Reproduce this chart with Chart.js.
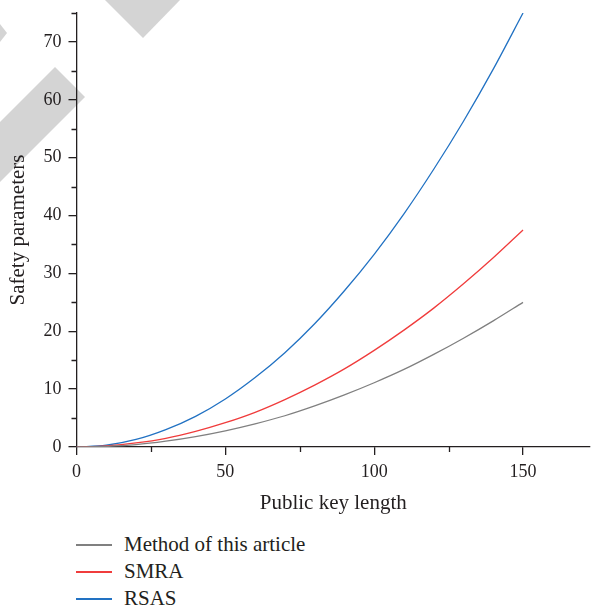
<!DOCTYPE html>
<html>
<head>
<meta charset="utf-8">
<script src="https://cdn.jsdelivr.net/npm/chart.js@4"></script>
<style>
    body { margin: 0; background: #fff; }
    #wrap { position: relative; width: 592px; height: 607px; overflow: hidden; }
    #marca { position: absolute; left: 0; top: 0; }
    #grafica { position: absolute; left: 0; top: 0; }
    #leyenda { position: absolute; left: 76px; top: 531px; font-family: "Liberation Serif", serif; font-size: 21px; color: #231f20; }
    .fila { height: 27px; display: flex; align-items: center; }
    .linea { width: 36px; height: 2px; margin-right: 12px; }
</style>
</head>
<body>
<div id="wrap">
    <svg id="marca" width="592" height="607">
        <g fill="#d4d4d4">
            <polygon points="105,0 180,0 143,38" />
            <polygon points="0,24 7,33 0,42" />
            <polygon points="0,122 55,67 85,97 0,182" />
        </g>
    </svg>
    <canvas id="grafica" width="592" height="520"></canvas>
    <div id="leyenda"></div>
</div>
<script>
const keyLength = [0, 10, 20, 30, 40, 50, 60, 70, 80, 90, 100, 110, 120, 130, 140, 150];
const metodo = [0, 0.1, 0.4, 1.0, 1.8, 2.8, 4.0, 5.4, 7.1, 9.0, 11.1, 13.4, 16.0, 18.8, 21.8, 25.0];
const smra = [0, 0.2, 0.7, 1.5, 2.7, 4.2, 6.0, 8.2, 10.7, 13.5, 16.7, 20.2, 24.0, 28.2, 32.7, 37.5];
const rsas = [0, 0.3, 1.3, 3.0, 5.3, 8.3, 12.0, 16.3, 21.3, 27.0, 33.3, 40.3, 48.0, 56.3, 65.3, 75.0];
const nombres = ['Method of this article', 'SMRA', 'RSAS'];
const colores = ['#808080', '#f03c3c', '#2272c3'];

const fuenteTicks = { family: '"Liberation Serif", serif', size: 18 };
const fuenteTitulo = { family: '"Liberation Serif", serif', size: 21 };
const tinta = '#231f20';

function puntos(serie) {
    return keyLength.map((x, i) => ({ x: x, y: serie[i] }));
}

// marcas menores del eje
const ticksMenores = {
    id: 'ticksMenores',
    afterDraw(chart) {
        const ctx = chart.ctx;
        const x = chart.scales.x, y = chart.scales.y;
        ctx.save();
        ctx.strokeStyle = tinta;
        ctx.lineWidth = 1.3;
        ctx.beginPath();
        y.ticks.forEach(t => {
            if (t.value % 10 !== 0) {
                const py = Math.round(y.getPixelForValue(t.value)) + 0.5;
                ctx.moveTo(x.left, py);
                ctx.lineTo(x.left - 5, py);
            }
        });
        x.ticks.forEach(t => {
            if (t.value % 50 !== 0) {
                const px = Math.round(x.getPixelForValue(t.value)) + 0.5;
                ctx.moveTo(px, y.bottom);
                ctx.lineTo(px, y.bottom + 5);
            }
        });
        ctx.stroke();
        ctx.restore();
    }
};

const grafica = new Chart(document.getElementById('grafica'), {
    type: 'line',
    data: {
        datasets: [metodo, smra, rsas].map((serie, i) => ({
            label: nombres[i],
            data: puntos(serie),
            borderColor: colores[i],
            borderWidth: 1.3,
            pointRadius: 0,
            cubicInterpolationMode: 'monotone',
            fill: false
        }))
    },
    options: {
        responsive: false,
        animation: false,
        layout: { padding: { left: 0, right: 2, top: 13, bottom: 0 } },
        plugins: {
            legend: { display: false },
            tooltip: { enabled: false }
        },
        scales: {
            x: {
                type: 'linear',
                min: 0,
                max: 172.5,
                afterFit: s => { s.height = 73; s.paddingLeft = 0; s.paddingRight = 0; },
                border: { display: true, color: tinta, width: 1.3 },
                grid: {
                    drawOnChartArea: false,
                    tickLength: 8,
                    lineWidth: 1.3,
                    color: c => (c.tick && c.tick.value % 50 === 0) ? tinta : 'rgba(0,0,0,0)'
                },
                ticks: {
                    stepSize: 25,
                    includeBounds: false,
                    autoSkip: false,
                    maxRotation: 0,
                    padding: 6,
                    color: tinta,
                    font: fuenteTicks,
                    callback: v => v % 50 === 0 ? v : ''
                },
                title: {
                    display: true,
                    text: 'Public key length',
                    color: tinta,
                    font: fuenteTitulo,
                    padding: { top: 0, bottom: 4 }
                }
            },
            y: {
                min: 0,
                max: 75,
                afterFit: s => { s.width = 76.5; s.paddingTop = 0; s.paddingBottom = 0; },
                border: { display: true, color: tinta, width: 1.3 },
                grid: {
                    drawOnChartArea: false,
                    tickLength: 8,
                    lineWidth: 1.3,
                    color: c => (c.tick && c.tick.value % 10 === 0) ? tinta : 'rgba(0,0,0,0)'
                },
                ticks: {
                    stepSize: 5,
                    includeBounds: false,
                    autoSkip: false,
                    padding: 7,
                    color: tinta,
                    font: fuenteTicks,
                    callback: v => v % 10 === 0 ? v : ''
                },
                title: {
                    display: true,
                    text: 'Safety parameters',
                    color: tinta,
                    font: fuenteTitulo,
                    padding: { top: 6, bottom: 0 }
                }
            }
        }
    },
    plugins: [ticksMenores]
});

// leyenda vertical abajo
const leyenda = document.getElementById('leyenda');
grafica.data.datasets.forEach(ds => {
    const fila = document.createElement('div');
    fila.className = 'fila';
    fila.innerHTML = `<span class="linea" style="background-color:${ds.borderColor}"></span><span>${ds.label}</span>`;
    leyenda.appendChild(fila);
});
</script>
</body>
</html>
